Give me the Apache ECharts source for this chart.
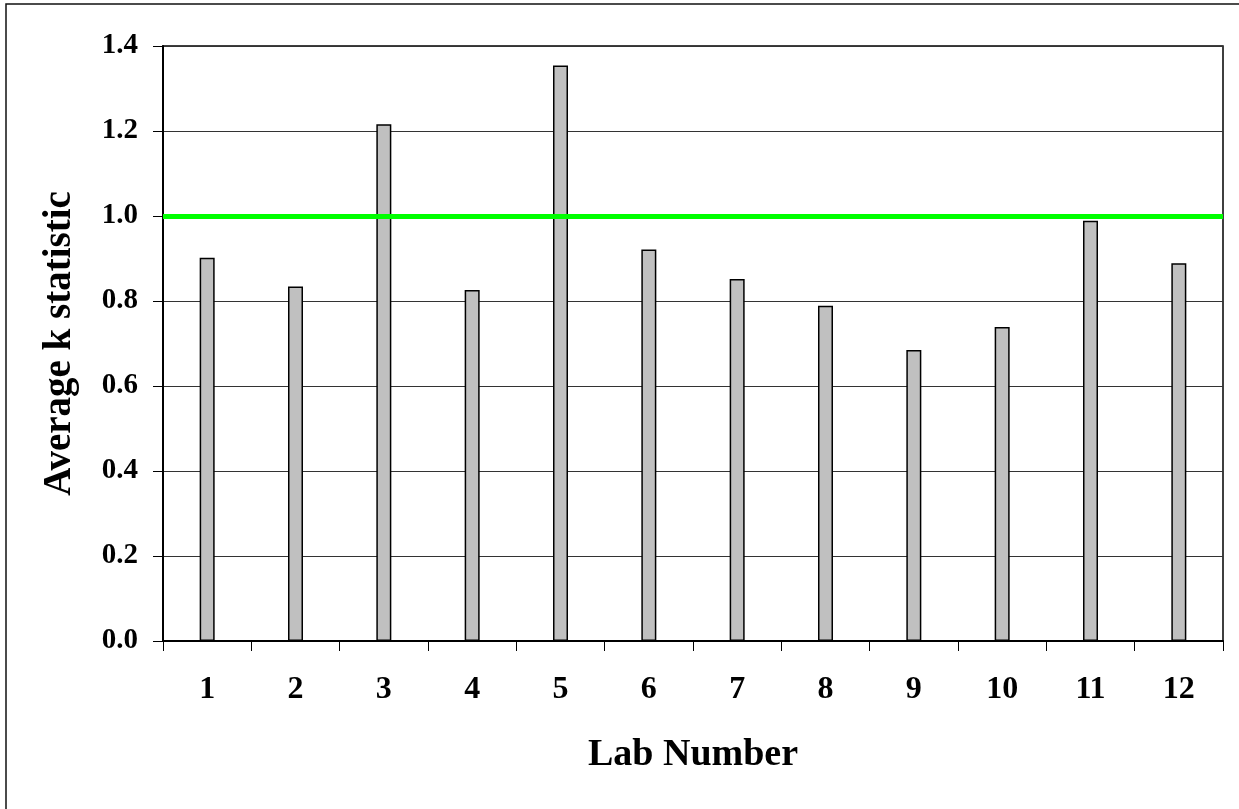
<!DOCTYPE html>
<html>
<head>
<meta charset="utf-8">
<script src="https://cdn.jsdelivr.net/npm/echarts@6/dist/echarts.min.js"></script>
<style>
html,body{margin:0;padding:0;background:#fff;}
#c{width:1239px;height:809px;}
</style>
</head>
<body>
<div id="c"></div>
<script>
const labs = ['1','2','3','4','5','6','7','8','9','10','11','12'];
const avgK = [0.902, 0.834, 1.216, 0.826, 1.354, 0.921, 0.852, 0.789, 0.685, 0.739, 0.989, 0.889];
const threshold = 1.0;
const yTicks = [0, 0.2, 0.4, 0.6, 0.8, 1.0, 1.2, 1.4];

const FONT = '"Liberation Serif", "Times New Roman", serif';
const chart = echarts.init(document.getElementById('c'), null, {renderer: 'canvas'});
chart.setOption({
  animation: false,
  backgroundColor: '#fff',
  graphic: [{
    type: 'rect', z: 100,
    shape: {x: 6, y: 4, width: 1300, height: 900},
    style: {fill: 'none', stroke: '#111', lineWidth: 1.5}
  }],
  grid: {left: 163, right: 16, top: 46, bottom: 168, show: true, borderColor: '#000', borderWidth: 1.5, backgroundColor: 'transparent'},
  xAxis: {
    type: 'category',
    data: labs,
    name: 'Lab Number',
    nameLocation: 'middle',
    nameGap: 95,
    nameTextStyle: {fontFamily: FONT, fontWeight: 'bold', fontSize: 38, color: '#000'},
    axisLine: {lineStyle: {color: '#000', width: 2}},
    axisTick: {show: true, length: 10, lineStyle: {color: '#000', width: 1}},
    axisLabel: {fontFamily: FONT, fontWeight: 'bold', fontSize: 32, color: '#000', margin: 33}
  },
  yAxis: {
    type: 'value',
    min: yTicks[0],
    max: yTicks[yTicks.length - 1],
    interval: 0.2,
    name: 'Average k statistic',
    nameLocation: 'middle',
    nameGap: 84,
    nameRotate: 90,
    nameTextStyle: {fontFamily: FONT, fontWeight: 'bold', fontSize: 39, color: '#000'},
    axisLine: {show: true, lineStyle: {color: '#000', width: 2}},
    axisTick: {show: true, length: 10, lineStyle: {color: '#000', width: 1}},
    axisLabel: {fontFamily: FONT, fontWeight: 'bold', fontSize: 29, color: '#000', margin: 25,
      formatter: v => v.toFixed(1)},
    splitLine: {show: true, lineStyle: {color: '#333', width: 1}}
  },
  series: [{
    type: 'bar',
    data: avgK,
    barWidth: 15,
    itemStyle: {color: '#c0c0c0', borderColor: '#000', borderWidth: 1.5},
    markLine: {
      silent: true,
      symbol: 'none',
      label: {show: false},
      lineStyle: {color: '#00ff00', width: 5, type: 'solid'},
      data: [{yAxis: threshold}]
    }
  }]
});
</script>
</body>
</html>
